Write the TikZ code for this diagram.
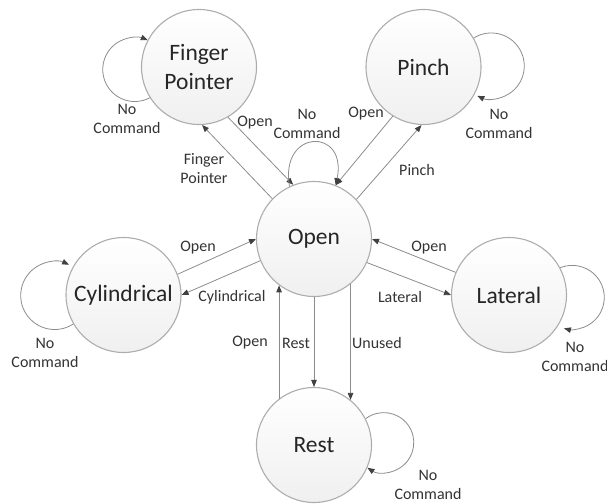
\documentclass[tikz,border=0pt]{standalone}
\usepackage{fontspec}
\setmainfont{Carlito}
\usetikzlibrary{arrows.meta}
\begin{document}
\begin{tikzpicture}[x=1pt,y=1pt,
  state/.style={circle, draw=black!32, line width=1.1pt, minimum size=115pt, inner sep=0pt,
    top color=white, bottom color=black!6, font=\fontsize{23.5}{28.5}\selectfont, align=center, text=black!85},
  lbl/.style={font=\fontsize{16}{19}\selectfont, align=center, text=black!80, inner sep=0pt},
  tr/.style={draw=black!45, line width=0.8pt, -{Triangle[length=7pt,width=5.5pt,color=black!75]}}
]
\useasboundingbox (0,0) rectangle (607,-503);
% states
\node[state] (open)  at (314,-239)   {Open};
\node[state] (fp)    at (199,-67)    {Finger\\Pointer};
\node[state] (pinch) at (423.5,-67)  {Pinch};
\node[state] (cyl)   at (123.5,-295) {Cylindrical};
\node[state] (lat)   at (509,-295)   {Lateral};
\node[state] (rest)  at (314,-445)   {Rest};
% transitions
\draw[tr] (open.136) -- (fp.-87);
\draw[tr] (fp.-60) -- (open.111);
\draw[tr] (pinch.-122) -- (open.68);
\draw[tr] (open.43) -- (pinch.-92);
\draw[tr] (cyl.21) -- (open.180);
\draw[tr] (open.202) -- (cyl.0);
\draw[tr] (lat.157) -- (open.0);
\draw[tr] (open.-24) -- (lat.180);
\draw[tr] (rest.127) -- (open.233);
\draw[tr] (open.-90) -- (rest.90);
\draw[tr] (open.-51) -- (rest.51);
% self loops
\draw[tr] (fp.212) arc[start angle=-62, end angle=-294, radius=32];
\draw[tr] (pinch.30) arc[start angle=122, end angle=-115, radius=33];
\draw[tr] (open.115) .. controls +(-10,58) and +(12,58) .. (open.68);
\draw[tr] (cyl.210) arc[start angle=-57, end angle=-295, radius=34];
\draw[tr] (lat.28) arc[start angle=112, end angle=-105, radius=32];
\draw[tr] (rest.27) arc[start angle=127, end angle=-123, radius=30];
% labels
\node[lbl] (l1)  at (204,-169) {Finger\\Pointer};
\node[lbl] (l2)  at (255,-123) {Open};
\node[lbl] (l3)  at (366,-114) {Open};
\node[lbl] (l4)  at (417,-170) {Pinch};
\node[lbl] (l5)  at (198,-248) {Open};
\node[lbl] (l6)  at (232,-297) {Cylindrical};
\node[lbl] (l7)  at (429,-248) {Open};
\node[lbl] (l8)  at (400,-297) {Lateral};
\node[lbl] (l9)  at (250,-343) {Open};
\node[lbl] (l10) at (296,-343) {Rest};
\node[lbl] (l11) at (377,-343) {Unused};
\node[lbl] (n1) at (127,-119) {No\\Command};
\node[lbl] (n2) at (499,-124) {No\\Command};
\node[lbl] (n3) at (307,-124) {No\\Command};
\node[lbl] (n4) at (45,-353)  {No\\Command};
\node[lbl] (n5) at (575,-357) {No\\Command};
\node[lbl] (n6) at (428,-485) {No\\Command};
\end{tikzpicture}
\end{document}
